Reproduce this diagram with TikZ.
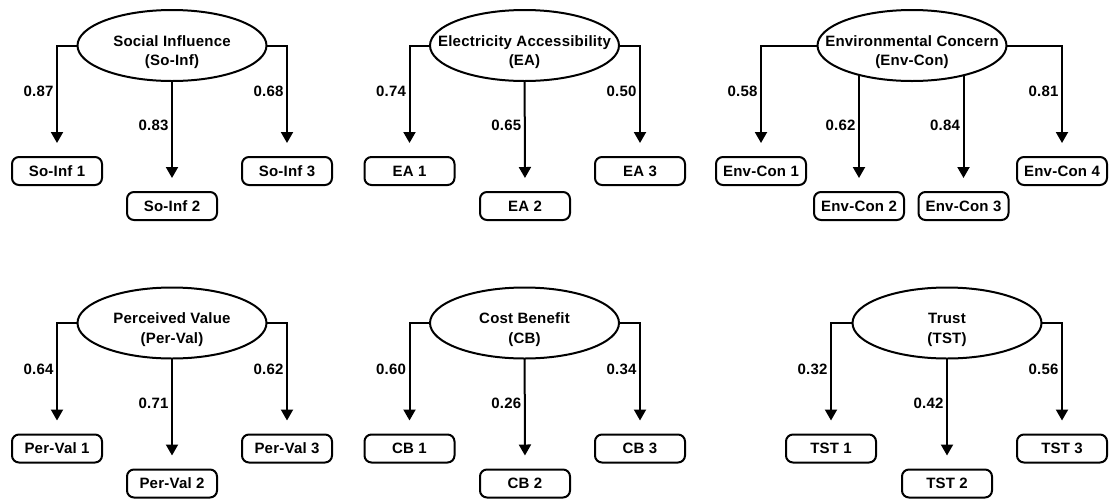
\documentclass[tikz,border=0pt]{standalone}
\usepackage{fontspec}
\setmainfont{Liberation Sans}[LetterSpace=1.5]
\usetikzlibrary{arrows.meta,backgrounds,shapes.geometric}

% latent construct title: two centred lines, without widening the ellipse
\newcommand{\lattext}[2]{\makebox[0pt]{\raisebox{-10pt}[0pt][0pt]{%
  \begin{tabular}{@{}c@{}}#1\\#2\end{tabular}}}}

\tikzset{
  lat/.style={ellipse, draw, line width=2pt, fill=white, inner sep=0pt,
    minimum width=189pt, minimum height=71pt,
    font=\fontsize{15}{19.5}\selectfont\bfseries},
  ind/.style={rectangle, rounded corners=7pt, draw, line width=2pt, fill=white,
    minimum width=90pt, minimum height=28pt, inner sep=0pt,
    font=\fontsize{15}{18}\selectfont\bfseries},
  arr/.style={line width=2pt, -{Triangle[width=12pt,length=11pt]}, shorten >=13pt},
  coef/.style={font=\fontsize{15}{18}\selectfont\bfseries, anchor=east, inner sep=2.5pt},
}

\begin{document}
\begin{tikzpicture}[x=1pt,y=-1pt]
\useasboundingbox (0,0) rectangle (1109,499);

% ---------- top row ----------
\node[lat] (si) at (172,45.5) {\lattext{Social Influence}{(So-Inf)}};
\node[ind] (si1) at (57,171)  {So-Inf 1};
\node[ind] (si2) at (172,206) {So-Inf 2};
\node[ind] (si3) at (287,171) {So-Inf 3};

\node[lat] (ea) at (524.5,45.5) {\lattext{Electricity Accessibility}{(EA)}};
\node[ind] (ea1) at (409.5,171) {EA 1};
\node[ind] (ea2) at (525,206)   {EA 2};
\node[ind] (ea3) at (640,171)   {EA 3};

\node[lat] (ec) at (912,45.5) {\lattext{Environmental Concern}{(Env-Con)}};
\node[ind] (ec1) at (761,171)   {Env-Con 1};
\node[ind] (ec2) at (859,206)   {Env-Con 2};
\node[ind] (ec3) at (963.5,206) {Env-Con 3};
\node[ind] (ec4) at (1062,171)  {Env-Con 4};

% ---------- bottom row ----------
\node[lat] (pv) at (172,323) {\lattext{Perceived Value}{(Per-Val)}};
\node[ind] (pv1) at (57,448.5)  {Per-Val 1};
\node[ind] (pv2) at (172,483.5) {Per-Val 2};
\node[ind] (pv3) at (287,448.5) {Per-Val 3};

\node[lat] (cb) at (524.5,323) {\lattext{Cost Benefit}{(CB)}};
\node[ind] (cb1) at (409.5,448.5) {CB 1};
\node[ind] (cb2) at (525,483.5)   {CB 2};
\node[ind] (cb3) at (640,448.5)   {CB 3};

\node[lat] (ts) at (947,323) {\lattext{Trust}{(TST)}};
\node[ind] (ts1) at (831,448.5) {TST 1};
\node[ind] (ts2) at (947,483.5) {TST 2};
\node[ind] (ts3) at (1062,448.5) {TST 3};

% ---------- loadings ----------
\begin{scope}[on background layer]
  \draw[arr] (si.center) -| node[coef,pos=.708]{0.87} (si1.north);
  \draw[arr] (si.center) -- node[coef,pos=.551]{0.83} (si2.north);
  \draw[arr] (si.center) -| node[coef,pos=.708]{0.68} (si3.north);

  \draw[arr] (ea.center) -| node[coef,pos=.708]{0.74} (ea1.north);
  \draw[arr] (ea.center) -- node[coef,pos=.551]{0.65} (ea2.north);
  \draw[arr] (ea.center) -| node[coef,pos=.708]{0.50} (ea3.north);

  \draw[arr] (ec.center) -| node[coef,pos=.708]{0.58} (ec1.north);
  \draw[arr] (ec2.north |- ec.center) -- node[coef,pos=.551]{0.62} (ec2.north);
  \draw[arr] (ec3.north |- ec.center) -- node[coef,pos=.551]{0.84} (ec3.north);
  \draw[arr] (ec.center) -| node[coef,pos=.708]{0.81} (ec4.north);

  \draw[arr] (pv.center) -| node[coef,pos=.708]{0.64} (pv1.north);
  \draw[arr] (pv.center) -- node[coef,pos=.551]{0.71} (pv2.north);
  \draw[arr] (pv.center) -| node[coef,pos=.708]{0.62} (pv3.north);

  \draw[arr] (cb.center) -| node[coef,pos=.708]{0.60} (cb1.north);
  \draw[arr] (cb.center) -- node[coef,pos=.551]{0.26} (cb2.north);
  \draw[arr] (cb.center) -| node[coef,pos=.708]{0.34} (cb3.north);

  \draw[arr] (ts.center) -| node[coef,pos=.708]{0.32} (ts1.north);
  \draw[arr] (ts.center) -- node[coef,pos=.551]{0.42} (ts2.north);
  \draw[arr] (ts.center) -| node[coef,pos=.708]{0.56} (ts3.north);
\end{scope}
\end{tikzpicture}
\end{document}
